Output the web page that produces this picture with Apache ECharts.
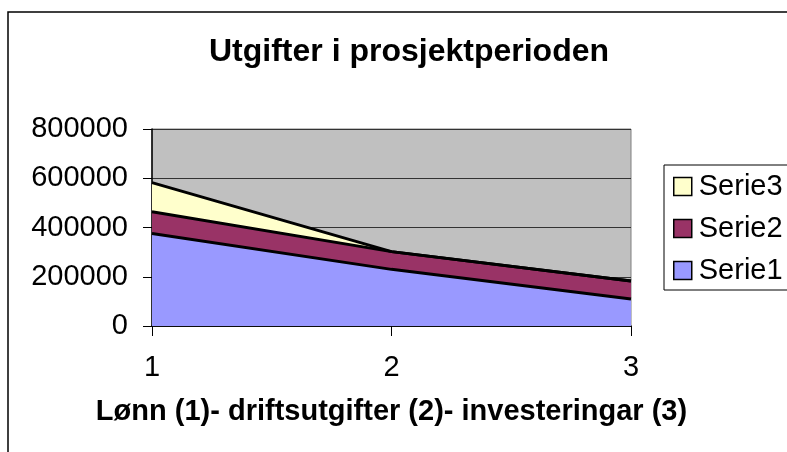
<!DOCTYPE html>
<html>
<head>
<meta charset="utf-8">
<title>Utgifter i prosjektperioden</title>
<script src="https://cdn.jsdelivr.net/npm/echarts@6.0.0/dist/echarts.min.js"></script>
<style>
    html, body { margin: 0; padding: 0; background: #fff; }
    #chart { width: 787px; height: 452px; }
</style>
</head>
<body>
<div id="chart"></div>
<script>
// kategoriar og verdiar, lesne av figuren
var categories = ['1', '2', '3'];
var serie1 = [376000, 230000, 110000];
var serie2 = [88000, 72000, 73000];
var serie3 = [118000, 0, 0];
var yTicks = [0, 200000, 400000, 600000, 800000];

var fontFamily = '"Liberation Sans", Arial, sans-serif';

var chart = echarts.init(document.getElementById('chart'));

function areaSeries(name, data, color) {
    return {
        name: name,
        type: 'line',
        stack: 'utgifter',
        data: data,
        symbol: 'none',
        color: color,
        lineStyle: { color: '#000', width: 3 },
        areaStyle: { color: color, opacity: 1 }
    };
}

var option = {
    animation: false,
    backgroundColor: '#fff',
    textStyle: { fontFamily: fontFamily },
    // ramme rundt heile diagrammet
    graphic: [{
        type: 'rect',
        shape: { x: 8, y: 12, width: 820, height: 480 },
        style: { fill: null, stroke: '#000', lineWidth: 1.5 },
        silent: true
    }],
    title: {
        text: 'Utgifter i prosjektperioden',
        left: 404,
        textAlign: 'center',
        top: 31,
        textStyle: { fontSize: 32, fontWeight: 'bold', color: '#000', fontFamily: fontFamily }
    },
    legend: {
        data: ['Serie3', 'Serie2', 'Serie1'],
        orient: 'vertical',
        left: 664,
        top: 165,
        icon: 'rect',
        itemWidth: 18,
        itemHeight: 18,
        itemGap: 13,
        itemStyle: { borderColor: '#000', borderWidth: 1.5 },
        padding: [7, 10, 5, 9],
        borderColor: '#000',
        borderWidth: 1,
        backgroundColor: '#fff',
        textStyle: { fontSize: 29, color: '#000', fontFamily: fontFamily, padding: [0, 0, 0, 2] }
    },
    grid: {
        show: true,
        left: 152,
        right: 156,
        top: 129,
        height: 197,
        backgroundColor: '#C0C0C0',
        borderColor: '#808080',
        borderWidth: 1
    },
    xAxis: {
        type: 'category',
        data: categories,
        boundaryGap: false,
        name: 'Lønn (1)- driftsutgifter (2)- investeringar (3)',
        nameLocation: 'middle',
        nameGap: 71,
        nameTextStyle: { fontSize: 29, fontWeight: 'bold', color: '#000', fontFamily: fontFamily },
        axisLine: { lineStyle: { color: '#000', width: 1.5 } },
        axisTick: { alignWithLabel: true, length: 10, lineStyle: { color: '#000' } },
        axisLabel: { fontSize: 29, color: '#000', margin: 27, fontFamily: fontFamily },
        splitLine: { show: false }
    },
    yAxis: {
        type: 'value',
        min: yTicks[0],
        max: yTicks[yTicks.length - 1],
        interval: yTicks[1] - yTicks[0],
        axisLine: { show: true, lineStyle: { color: '#000', width: 1.5 } },
        axisTick: { show: true, length: 9, lineStyle: { color: '#000' } },
        axisLabel: {
            fontSize: 29, color: '#000', margin: 24, fontFamily: fontFamily,
            formatter: function (v) { return String(v); }
        },
        splitLine: { show: true, lineStyle: { color: '#333', width: 1 } }
    },
    series: [
        areaSeries('Serie1', serie1, '#9999FF'),
        areaSeries('Serie2', serie2, '#993366'),
        areaSeries('Serie3', serie3, '#FFFFCC')
    ]
};

chart.setOption(option);
</script>
</body>
</html>
